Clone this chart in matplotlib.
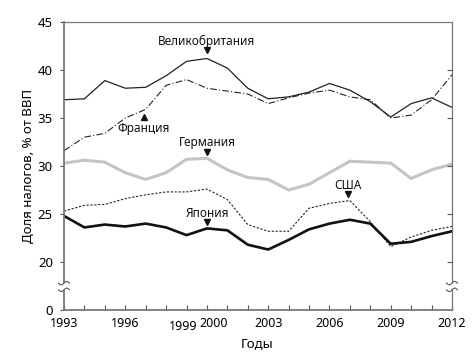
import numpy as np
import matplotlib.pyplot as plt
from matplotlib.transforms import blended_transform_factory
from matplotlib.patches import Rectangle

plt.rcParams['font.family'] = ['Noto Sans', 'DejaVu Sans']

years = list(range(1993, 2013))
uk = [36.9, 37.0, 38.9, 38.1, 38.2, 39.4, 40.9, 41.2, 40.2, 38.1,
      37.0, 37.2, 37.7, 38.6, 37.9, 36.7, 35.1, 36.5, 37.1, 36.1]
france = [31.6, 33.0, 33.4, 35.0, 35.9, 38.4, 39.0, 38.1, 37.8, 37.5,
          36.5, 37.1, 37.6, 37.9, 37.2, 36.9, 35.0, 35.3, 36.9, 39.5]
germany = [30.3, 30.6, 30.4, 29.3, 28.6, 29.3, 30.7, 30.8, 29.6, 28.8,
           28.6, 27.5, 28.1, 29.3, 30.5, 30.4, 30.3, 28.7, 29.6, 30.2]
usa = [25.3, 25.9, 26.0, 26.6, 27.0, 27.3, 27.3, 27.6, 26.5, 23.9,
       23.2, 23.2, 25.6, 26.1, 26.4, 24.2, 21.6, 22.6, 23.3, 23.7]
japan = [24.8, 23.6, 23.9, 23.7, 24.0, 23.6, 22.8, 23.5, 23.3, 21.8,
         21.3, 22.3, 23.4, 24.0, 24.4, 24.0, 21.9, 22.1, 22.7, 23.2]

xtick_years = [1993, 1996, 2003, 2006, 2009, 2012]
ytick_vals = [15, 20, 25, 30, 35, 40, 45]
ytick_labels = ['0', '20', '25', '30', '35', '40', '45']

# (text, x, text y, marker y, marker)
notes = [
    ('Великобритания', 2000, 43.0, 42.1, 'v'),
    ('Франция', 1996.9, 33.9, 35.1, '^'),
    ('Германия', 2000, 32.4, 31.5, 'v'),
    ('Япония', 2000, 25.1, 24.2, 'v'),
    ('США', 2006.9, 28.0, 27.1, 'v'),
]

fig = plt.figure(figsize=(4.73, 3.57), dpi=100)
ax = fig.add_axes([64/473, 1-310/357, (452-64)/473, (310-22)/357])

ax.plot(years, germany, color='#c4c4c4', lw=2.2, solid_joinstyle='miter')
ax.plot(years, uk, color='#222222', lw=0.9)
ax.plot(years, france, color='#222222', lw=0.8, dashes=(6, 2, 1, 2))
ax.plot(years, usa, color='#222222', lw=0.8, dashes=(2, 1.5))
ax.plot(years, japan, color='#111111', lw=1.9)

for txt, x, ty, my, mk in notes:
    ax.text(x, ty, txt, ha='center', va='center', fontsize=8.5, color='#111111')
    ax.plot([x], [my], marker=mk, color='#111111', markersize=4, ls='none')

ax.set_xlim(1993, 2012)
ax.set_ylim(15, 45)
ax.set_xticks(years)
ax.set_xticklabels([str(y) if y in xtick_years else '' for y in years])
ax.set_yticks(ytick_vals)
ax.set_yticklabels(ytick_labels)
ax.tick_params(axis='x', direction='in', length=3.5, width=0.8, color='#555555',
               labelsize=9, pad=5)
ax.tick_params(axis='y', direction='out', length=3, width=0.8, color='#555555',
               labelsize=9.5, pad=5)

# labels for 1999 and 2000 sit apart so they do not collide
tr = blended_transform_factory(ax.transData, ax.transAxes)
ax.text(1998.85, -0.034, '1999', transform=tr, ha='center', va='top', fontsize=9)
ax.text(2000.35, -0.024, '2000', transform=tr, ha='center', va='top', fontsize=9)

ax2 = ax.twinx()
ax2.set_ylim(15, 45)
ax2.set_yticks([20, 25, 30, 35, 40])
ax2.set_yticklabels([])
ax2.tick_params(axis='y', direction='in', length=3.5, width=0.8, color='#555555')
for s in ax2.spines.values():
    s.set_visible(False)

for s in ax.spines.values():
    s.set_color('#777777')
    s.set_linewidth(0.9)
ax.spines['left'].set_linewidth(1.3)
ax.spines['bottom'].set_linewidth(1.3)

# axis break marks at the left and right spines
for xa in (0.0, 1.0):
    ax2.add_patch(Rectangle((xa - 0.006, 17.1), 0.012, 0.7,
                            transform=blended_transform_factory(ax2.transAxes, ax2.transData),
                            facecolor='white', edgecolor='none', zorder=5, clip_on=False))
    t = np.linspace(-0.014, 0.014, 30)
    for yb in (17.1, 17.8):
        ax2.plot(xa + t, yb + 0.18 * np.sin(t / 0.014 * np.pi), color='#555555', lw=0.8,
                 transform=blended_transform_factory(ax2.transAxes, ax2.transData),
                 clip_on=False, zorder=6)

ax.set_ylabel('Доля налогов, % от ВВП', fontsize=9.5, labelpad=2)
ax.set_xlabel('Годы', fontsize=9.5)
ax.xaxis.set_label_coords(0.497, -0.095)

fig.savefig('out.png', dpi=100)
